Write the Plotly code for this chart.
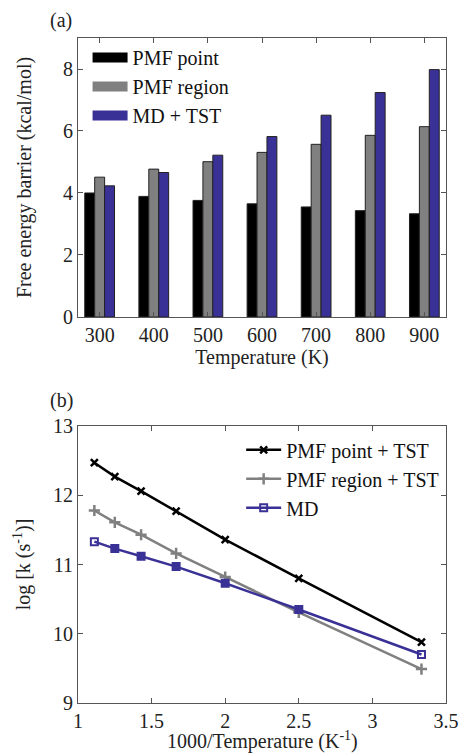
import plotly.graph_objects as go

temps = ["300", "400", "500", "600", "700", "800", "900"]
pmf_point = [4.00, 3.89, 3.76, 3.65, 3.55, 3.43, 3.33]
pmf_region = [4.51, 4.77, 5.01, 5.31, 5.57, 5.86, 6.14]
md_tst = [4.23, 4.66, 5.22, 5.82, 6.51, 7.24, 7.98]
bar_names = ["PMF point", "PMF region", "MD + TST"]

inv_t = [1000/900, 1000/800, 1000/700, 1000/600, 1000/500, 1000/400, 1000/300]
log_point = [12.47, 12.27, 12.06, 11.77, 11.36, 10.80, 9.88]
log_region = [11.78, 11.61, 11.43, 11.16, 10.82, 10.31, 9.49]
log_md = [11.33, 11.23, 11.12, 10.97, 10.73, 10.35, 9.70]

BLUE = "#3a3196"
GRAY = "#808080"
FONT = "Liberation Serif"
AX = "#555555"
FS = 20

fig = go.Figure()
bar_colors = ["#000000", GRAY, BLUE]
for name, vals, col in zip(bar_names, [pmf_point, pmf_region, md_tst], bar_colors):
    fig.add_trace(go.Bar(x=temps, y=vals, name=name, showlegend=False,
                         marker=dict(color=col, line=dict(color="#222", width=1)), xaxis="x", yaxis="y"))
# legend proxies (wide rectangular swatches like the original)
for name, col in zip(bar_names, bar_colors):
    fig.add_trace(go.Scatter(x=[None], y=[None], name=name, mode="lines",
                             line=dict(color=col, width=12), xaxis="x", yaxis="y", legend="legend"))

fig.add_trace(go.Scatter(x=inv_t, y=log_point, name="PMF point + TST", mode="lines+markers",
                         line=dict(color="#000000", width=2.5), marker=dict(symbol="x-thin", size=7, line=dict(color="#000", width=2.5)),
                         xaxis="x2", yaxis="y2", legend="legend2"))
fig.add_trace(go.Scatter(x=inv_t, y=log_region, name="PMF region + TST", mode="lines+markers",
                         line=dict(color=GRAY, width=2.5), marker=dict(symbol="cross-thin", size=8, line=dict(color=GRAY, width=2.5)),
                         xaxis="x2", yaxis="y2", legend="legend2"))
fig.add_trace(go.Scatter(x=inv_t, y=log_md, name="MD", mode="lines+markers",
                         line=dict(color=BLUE, width=2.5),
                         marker=dict(symbol=["square-open", "square", "square", "square", "square", "square", "square-open"], size=7, color=BLUE, line=dict(color=BLUE, width=2)),
                         xaxis="x2", yaxis="y2", legend="legend2"))

axcommon = dict(showline=True, linecolor=AX, linewidth=1, mirror="ticks", ticks="inside", ticklen=5,
                tickcolor=AX, showgrid=False, zeroline=False, tickfont=dict(family=FONT, size=FS, color="#222"),
                title_font=dict(family=FONT, size=FS, color="#222"))

fig.update_layout(
    width=471, height=753,
    margin=dict(l=78, r=13, t=38, b=50),
    paper_bgcolor="white", plot_bgcolor="white",
    font=dict(family=FONT, size=FS, color="#222"),
    barmode="group", bargap=0.45, bargroupgap=0,
    xaxis=dict(axcommon, domain=[0, 1], anchor="y", range=[-0.4, 6.4], title=dict(text="Temperature (K)", standoff=2), type="category"),
    yaxis=dict(axcommon, domain=[0.5805, 1], anchor="x", range=[0, 9], tickvals=[0, 2, 4, 6, 8],
               title=dict(text="Free energy barrier (kcal/mol)", standoff=25)),
    xaxis2=dict(axcommon, domain=[0, 1], anchor="y2", range=[1, 3.5], tickvals=[1, 1.5, 2, 2.5, 3, 3.5]),
    yaxis2=dict(axcommon, domain=[0, 0.4165], anchor="x2", range=[9, 13], tickvals=[9, 10, 11, 12, 13],
                title=dict(text="log [k (s<sup>-1</sup>)]", standoff=16)),
    legend=dict(x=0.026, y=1.0, xanchor="left", yanchor="top", bgcolor="rgba(0,0,0,0)",
                font=dict(family=FONT, size=FS, color="#111"), itemwidth=35, tracegroupgap=0),
    legend2=dict(x=0.995, y=0.41, xanchor="right", yanchor="top", bgcolor="rgba(0,0,0,0)",
                 font=dict(family=FONT, size=FS, color="#111"), itemwidth=35, tracegroupgap=0),
    annotations=[
        dict(text="(a)", x=-0.045, y=1.0, xref="paper", yref="paper", xanchor="center", yanchor="middle",
             yshift=18, showarrow=False, font=dict(family=FONT, size=FS, color="#222")),
        dict(text="(b)", x=-0.045, y=0.4165, xref="paper", yref="paper", xanchor="center", yanchor="middle",
             yshift=26, showarrow=False, font=dict(family=FONT, size=FS, color="#222")),
        dict(text="1000/Temperature (K<sup>-1</sup>)", x=0.5, y=0, xref="paper", yref="paper",
             xanchor="center", yanchor="bottom", yshift=-52, showarrow=False,
             font=dict(family=FONT, size=FS, color="#222")),
    ],
)

fig.write_html("out.html", config={"displayModeBar": False},
               post_script="document.body.style.margin='0';document.body.style.overflow='hidden';")
